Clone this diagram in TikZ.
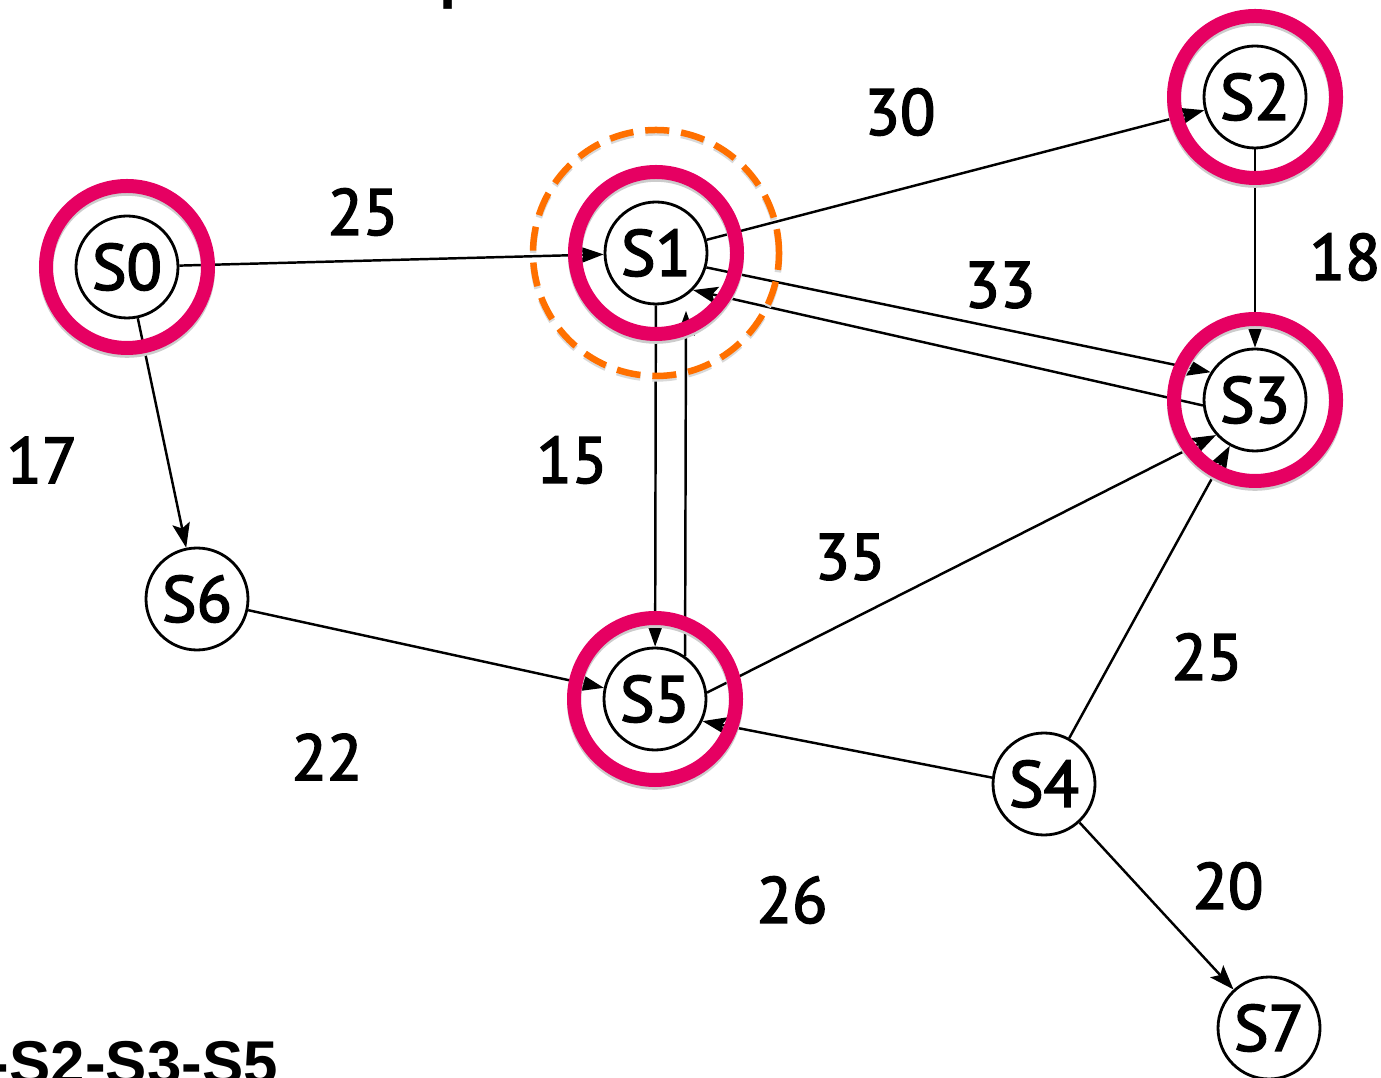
\documentclass[tikz,border=0pt]{standalone}
\usepackage{fontspec}
\setsansfont{PT Sans}[FakeBold=2.5]
\newfontfamily\headfont{Liberation Sans}
\usetikzlibrary{arrows.meta}

\definecolor{ringpink}{RGB}{230,0,98}
\definecolor{focusorange}{RGB}{255,112,0}

\begin{document}
\begin{tikzpicture}[>={Stealth[length=7pt,width=5pt,inset=1.4pt]}, line width=0.7pt,
      stnode/.style={circle, draw, line width=0.8pt, minimum size=1.02cm, inner sep=0pt,
                     font=\sffamily\fontsize{18.5}{20}\selectfont},
      wt/.style={font=\sffamily\fontsize{18.5}{20}\selectfont, inner sep=0pt},
      ring/.style={circle, draw=ringpink, line width=0.14cm, minimum size=1.62cm, inner sep=0pt,
                   preaction={draw=black!20, transform canvas={yshift=-0.8pt}}},
      focus/.style={circle, draw=focusorange, line width=0.065cm, minimum size=2.46cm, inner sep=0pt,
                    dash pattern=on 0.24cm off 0.12cm,
                    preaction={draw=black!15, transform canvas={yshift=-0.7pt}}},
      headline/.style={font=\headfont\bfseries\fontsize{17.6}{20}\selectfont, inner sep=0pt}]

    \useasboundingbox (0,0) rectangle (13.81,-10.78);
    \clip (0,0) rectangle (13.81,-10.78);

    % States
    \node[stnode] (s0) at (1.27,-2.67)  {S0};
    \node[stnode] (s1) at (6.56,-2.53)  {S1};
    \node[stnode] (s2) at (12.55,-0.97) {S2};
    \node[stnode] (s3) at (12.55,-4.00) {S3};
    \node[stnode] (s4) at (10.44,-7.84) {S4};
    \node[stnode] (s5) at (6.55,-6.99)  {S5};
    \node[stnode] (s6) at (1.97,-5.99)  {S6};
    \node[stnode] (s7) at (12.69,-10.28) {S7};

    % Links
    \draw[->] (s0) -- (s1);
    \draw[->] (s0) -- (s6);
    \draw[->] (s1) -- (s2);
    \draw[->] (s2) -- (s3);
    \draw[->] (s1.-16) -- (s3.148);
    \draw[->] (s3.186) -- (s1.-45);
    \draw[->] (s1) -- (s5);
    \draw[->, shorten >=0.15cm] (s5.55) -- (s1.-55);
    \draw[->] (s6) -- (s5);
    \draw[->] (s5.7) -- (s3.222);
    \draw[->] (s4.173) -- (s5.-25);
    \draw[->] (s4) -- (s3);
    \draw[->] (s4) -- (s7);

    % Weights
    \node[wt] (w01) at (3.63,-2.12)  {25};
    \node[wt] (w12) at (9.00,-1.12)  {30};
    \node[wt] (w23) at (13.45,-2.57) {18};
    \node[wt] (w13) at (10.00,-2.85) {33};
    \node[wt] (w06) at (0.42,-4.60)  {17};
    \node[wt] (w15) at (5.72,-4.60)  {15};
    \node[wt] (w53) at (8.50,-5.57)  {35};
    \node[wt] (w43) at (12.07,-6.57) {25};
    \node[wt] (w65) at (3.27,-7.57)  {22};
    \node[wt] (w45) at (7.92,-9.00)  {26};
    \node[wt] (w47) at (12.28,-8.86) {20};

    % Marked states
    \node[ring] (r0) at (s0) {};
    \node[ring] (r1) at (s1) {};
    \node[ring] (r2) at (s2) {};
    \node[ring] (r3) at (s3) {};
    \node[ring] (r5) at (s5) {};
    \node[focus] (f1) at (s1) {};

    % Cut-off text at the edges
    \node[headline, anchor=base west] (title) at (4.38,0.03) {p};
    \node[headline, anchor=base east] (route) at (2.79,-10.84) {-S2-S3-S5};

\end{tikzpicture}
\end{document}
